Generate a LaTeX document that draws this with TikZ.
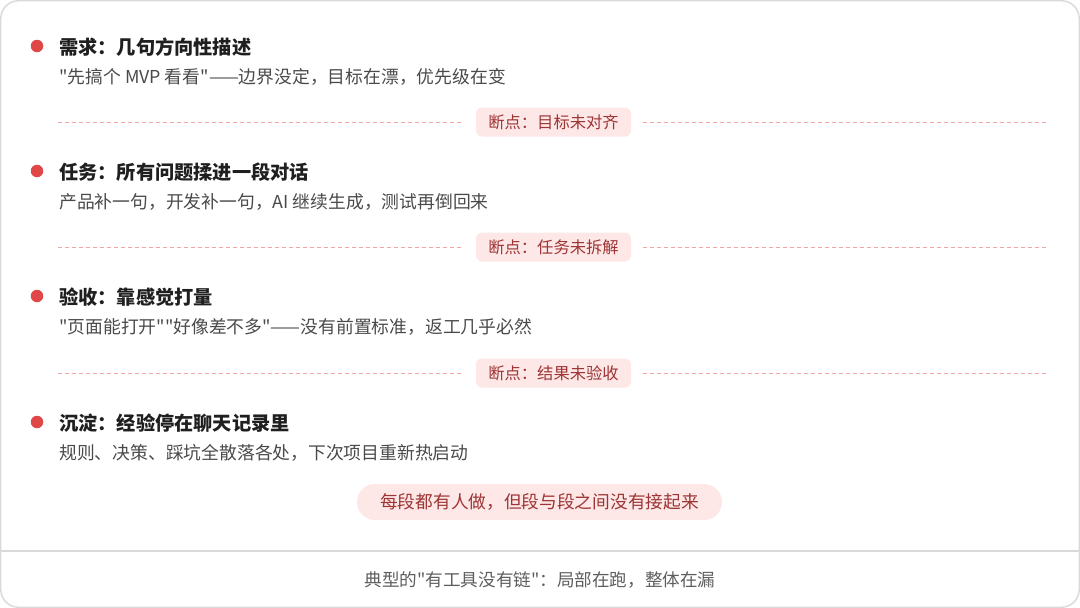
\documentclass[tikz,border=0pt]{standalone}
\usepackage{fontspec}
\setmainfont{Noto Sans CJK SC}[Ligatures=TeXOff]
\definecolor{frame}{HTML}{D9D9D9}
\definecolor{dot}{HTML}{E04848}
\definecolor{dash}{HTML}{F2A7A7}
\definecolor{pillfill}{HTML}{FDE7E7}
\definecolor{pilltext}{HTML}{9E3434}
\definecolor{titletext}{HTML}{1F1F1F}
\definecolor{subtext}{HTML}{4A4A4A}
\definecolor{foottext}{HTML}{5E5E5E}
\begin{document}
\begin{tikzpicture}[x=1pt,y=-1pt,
  title/.style={anchor=west,inner sep=0pt,font=\fontsize{19.2}{21}\selectfont\bfseries,text=titletext},
  sub/.style={anchor=west,inner sep=0pt,font=\fontsize{17.8}{19}\selectfont,text=subtext},
  bullet/.style={circle,fill=dot,inner sep=0pt,minimum size=12.5pt},
  sep/.style={draw=dash,line width=0.9pt,dash pattern=on 4pt off 3pt},
  pill/.style={fill=pillfill,rounded corners=6pt,minimum width=155pt,minimum height=29pt,inner sep=0pt,font=\fontsize{16.3}{18}\selectfont,text=pilltext},
  bigpill/.style={fill=pillfill,rounded corners=18pt,minimum width=365pt,minimum height=36pt,inner sep=0pt,font=\fontsize{17.7}{19}\selectfont,text=pilltext},
]
\useasboundingbox (0,0) rectangle (1080,608);
\draw[frame,line width=1.4pt,rounded corners=18pt] (0.7,0.7) rectangle (1079.3,607.3);
\coordinate (fl) at (0.7,551);
\coordinate (fr) at (1079.3,551);
\draw[frame,line width=1.2pt] (fl) -- (fr);

% item 1
\node[bullet] (b1) at (37,46) {};
\node[title] (t1) at (59,47) {需求：几句方向性描述};
\node[sub] (s1) at (59,77) {"先搞个 MVP 看看"——边界没定，目标在漂，优先级在变};
\node[pill] (p1) at (553.5,122) {断点：目标未对齐};
\coordinate (d1a) at (58,122); \coordinate (d1b) at (1048,122);
\draw[sep] (d1a) -- ([xshift=-13pt]p1.west);
\draw[sep] ([xshift=12pt]p1.east) -- (d1b);

% item 2
\node[bullet] (b2) at (37,171) {};
\node[title] (t2) at (59,172) {任务：所有问题揉进一段对话};
\node[sub] (s2) at (59,202) {产品补一句，开发补一句，AI 继续生成，测试再倒回来};
\node[pill] (p2) at (553.5,247) {断点：任务未拆解};
\coordinate (d2a) at (58,247); \coordinate (d2b) at (1048,247);
\draw[sep] (d2a) -- ([xshift=-13pt]p2.west);
\draw[sep] ([xshift=12pt]p2.east) -- (d2b);

% item 3
\node[bullet] (b3) at (37,296) {};
\node[title] (t3) at (59,297) {验收：靠感觉打量};
\node[sub] (s3) at (59,327) {"页面能打开""好像差不多"——没有前置标准，返工几乎必然};
\node[pill] (p3) at (553.5,373) {断点：结果未验收};
\coordinate (d3a) at (58,373); \coordinate (d3b) at (1048,373);
\draw[sep] (d3a) -- ([xshift=-13pt]p3.west);
\draw[sep] ([xshift=12pt]p3.east) -- (d3b);

% item 4
\node[bullet] (b4) at (37,422) {};
\node[title] (t4) at (59,423) {沉淀：经验停在聊天记录里};
\node[sub] (s4) at (59,453) {规则、决策、踩坑全散落各处，下次项目重新热启动};

\node[bigpill] (bp) at (539.5,502) {每段都有人做，但段与段之间没有接起来};

\node[inner sep=0pt,font=\fontsize{17.6}{19}\selectfont,text=foottext] (foot) at (540,580) {典型的"有工具没有链"：局部在跑，整体在漏};
\end{tikzpicture}
\end{document}
